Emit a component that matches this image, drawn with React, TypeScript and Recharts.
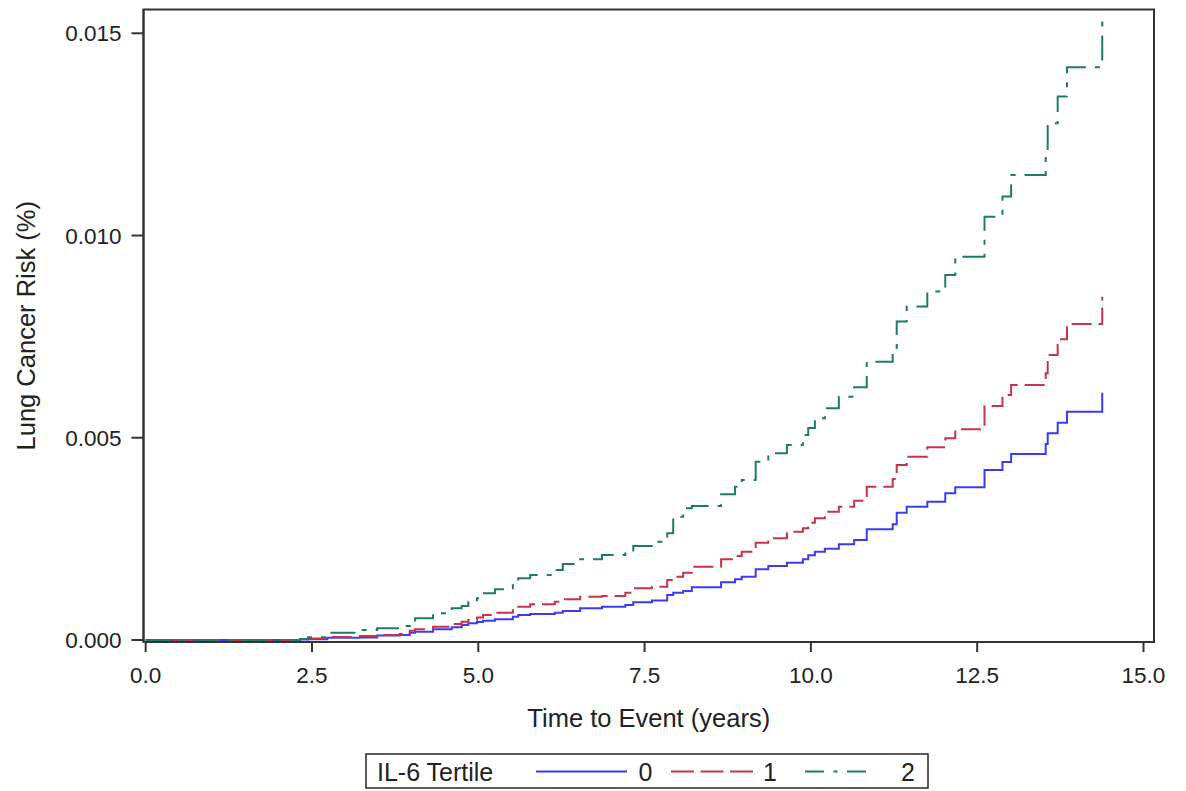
import React from 'react';
import { LineChart, Line, XAxis, YAxis, ReferenceArea, Label } from 'recharts';

// Time points (years) at which the step curves change
const times = [0, 2.32, 2.44, 2.73, 3.22, 3.48, 3.82, 3.97, 4.05, 4.32, 4.6, 4.75, 4.85, 4.98, 5.07, 5.25, 5.52, 5.6, 5.78, 6.15, 6.27, 6.53, 6.86, 7.21, 7.33, 7.61, 7.84, 7.93, 8.08, 8.21, 8.65, 8.86, 8.96, 9.17, 9.36, 9.64, 9.88, 9.96, 10.06, 10.21, 10.42, 10.65, 10.84, 11.23, 11.29, 11.44, 11.75, 12.02, 12.17, 12.61, 12.88, 13.01, 13.53, 13.56, 13.71, 13.85, 14.38];

// IL-6 Tertile 0
const tertile0 = [0, 0.000012, 0.000017, 0.000057, 0.000062, 0.000111, 0.000124, 0.000181, 0.000205, 0.000266, 0.000314, 0.000371, 0.000413, 0.000445, 0.000477, 0.000512, 0.000576, 0.000618, 0.000643, 0.000675, 0.000717, 0.000784, 0.000823, 0.000865, 0.000932, 0.000977, 0.001113, 0.00117, 0.001212, 0.001303, 0.001427, 0.001501, 0.001565, 0.001748, 0.00183, 0.001912, 0.001996, 0.002094, 0.002184, 0.002258, 0.002366, 0.002473, 0.002737, 0.002861, 0.003148, 0.003296, 0.00342, 0.003628, 0.003776, 0.004204, 0.004402, 0.004599, 0.004847, 0.005111, 0.005373, 0.005645, 0.006115];

// IL-6 Tertile 1
const tertile1 = [0, 0.000017, 0.000037, 0.000074, 0.000099, 0.000124, 0.000148, 0.00023, 0.000265, 0.000329, 0.000396, 0.000453, 0.000494, 0.000556, 0.000618, 0.000675, 0.000784, 0.000823, 0.000882, 0.000947, 0.001006, 0.001071, 0.001088, 0.00117, 0.001278, 0.001318, 0.001484, 0.001565, 0.001664, 0.001813, 0.001996, 0.002077, 0.002184, 0.002406, 0.002515, 0.002678, 0.002762, 0.002901, 0.003009, 0.003173, 0.003296, 0.003445, 0.003791, 0.003981, 0.004327, 0.004533, 0.004765, 0.004988, 0.00521, 0.005786, 0.006058, 0.006306, 0.006595, 0.007047, 0.007436, 0.007814, 0.008489];

// IL-6 Tertile 2
const tertile2 = [0, 0.000025, 0.000067, 0.000181, 0.000247, 0.000289, 0.000346, 0.000413, 0.000537, 0.00066, 0.000784, 0.000841, 0.000947, 0.001031, 0.001155, 0.001254, 0.001402, 0.001526, 0.001607, 0.001731, 0.001879, 0.001996, 0.002102, 0.002184, 0.002324, 0.002431, 0.002638, 0.003049, 0.003257, 0.003314, 0.003603, 0.003791, 0.003956, 0.004409, 0.004617, 0.004822, 0.005069, 0.005242, 0.005482, 0.00573, 0.006016, 0.006249, 0.006882, 0.007047, 0.007871, 0.008242, 0.008613, 0.009026, 0.009478, 0.010467, 0.010962, 0.011499, 0.012075, 0.012777, 0.013435, 0.014162, 0.015374];

const xTicks = [0, 2.5, 5, 7.5, 10, 12.5, 15];
const yTicks = [0, 0.005, 0.01, 0.015];
const seriesKeys = ['s0', 's1', 's2'];
const seriesNames = ['0', '1', '2'];
const seriesColors = ['#3B3BF2', '#C4344A', '#1F7A6A'];
const seriesDash = [undefined, '20 7', '25 9 5 9'];
const legendDash = [undefined, '23 6.5', '19 9.5 4 9.5'];
const legendTitle = 'IL-6 Tertile';
const xAxisTitle = 'Time to Event (years)';
const yAxisTitle = 'Lung Cancer Risk (%)';

const X_DOMAIN: [number, number] = [-0.033, 15.158];
const Y_DOMAIN: [number, number] = [-0.00005, 0.015588];

const FONT = '"Liberation Sans", Arial, Helvetica, sans-serif';
const AXIS = '#333333';
const TEXT = '#222222';

const data = times.map((t, i) => ({
  t,
  s0: tertile0[i],
  s1: tertile1[i],
  s2: tertile2[i],
}));

const XLabel = (props: any) => {
  const vb = props && props.viewBox ? props.viewBox : { x: 143.5, y: 642, width: 1010.5, height: 60 };
  const cx = vb.x + vb.width / 2;
  return (
    <text x={cx} y={vb.y + 85} textAnchor="middle" fontSize={25.5} fill={TEXT} fontFamily={FONT}>
      {xAxisTitle}
    </text>
  );
};

const YLabel = (props: any) => {
  const vb = props && props.viewBox ? props.viewBox : { x: 0, y: 9.5, width: 143.5, height: 632.5 };
  const x = vb.x + 35;
  const y = vb.y + vb.height / 2;
  return (
    <text x={x} y={y} textAnchor="middle" fontSize={25.5} fill={TEXT} fontFamily={FONT} transform={`rotate(-90, ${x}, ${y})`}>
      {yAxisTitle}
    </text>
  );
};

const LegendBox = () => {
  const boxX = 366;
  const boxY = 754;
  const lineY = 771.5;
  const textY = 780.5;
  const items = [
    { x1: 536, x2: 627, tx: 638.5 },
    { x1: 671, x2: 753, tx: 763 },
    { x1: 805, x2: 866, tx: 901 },
  ];
  return (
    <svg width={1186} height={791} style={{ position: 'absolute', left: 0, top: 0, pointerEvents: 'none' }}>
      <rect x={boxX} y={boxY} width={562} height={34} fill="#fff" stroke={AXIS} strokeWidth={1.6} />
      <text x={377} y={textY} fontSize={25} fill={TEXT} fontFamily={FONT}>{legendTitle}</text>
      {items.map((it, i) => (
        <g key={i}>
          <line x1={it.x1} x2={it.x2} y1={lineY} y2={lineY} stroke={seriesColors[i]} strokeWidth={2} strokeDasharray={legendDash[i]} />
          <text x={it.tx} y={textY} fontSize={25} fill={TEXT} fontFamily={FONT}>{seriesNames[i]}</text>
        </g>
      ))}
    </svg>
  );
};

export default function App() {
  return (
    <div style={{ position: 'absolute', left: 0, top: 0, width: 1186, height: 791, background: '#fff', fontFamily: FONT }}>
      <LineChart width={1186} height={791} data={data} margin={{ top: 9.5, right: 32, bottom: 89, left: 0 }}>
        <XAxis
          dataKey="t"
          type="number"
          domain={X_DOMAIN}
          allowDataOverflow
          ticks={xTicks}
          interval={0}
          tickFormatter={(v: number) => v.toFixed(1)}
          tickSize={10}
          tickMargin={15}
          height={60}
          axisLine={{ stroke: AXIS, strokeWidth: 2 }}
          tickLine={{ stroke: AXIS, strokeWidth: 2 }}
          tick={{ fontSize: 22.5, fill: TEXT, fontFamily: FONT }}
        >
          <Label content={XLabel} />
        </XAxis>
        <YAxis
          type="number"
          domain={Y_DOMAIN}
          allowDataOverflow
          ticks={yTicks}
          interval={0}
          tickFormatter={(v: number) => v.toFixed(3)}
          width={143.5}
          tickSize={12}
          tickMargin={10}
          axisLine={{ stroke: AXIS, strokeWidth: 2 }}
          tickLine={{ stroke: AXIS, strokeWidth: 2 }}
          tick={{ fontSize: 22.5, fill: TEXT, fontFamily: FONT }}
        >
          <Label content={YLabel} />
        </YAxis>
        <ReferenceArea
          x1={X_DOMAIN[0]}
          x2={X_DOMAIN[1]}
          y1={Y_DOMAIN[0]}
          y2={Y_DOMAIN[1]}
          fill="none"
          fillOpacity={0}
          stroke={AXIS}
          strokeWidth={2}
          ifOverflow="visible"
        />
        {seriesKeys.map((k, i) => (
          <Line
            key={k}
            type="stepAfter"
            dataKey={k}
            name={seriesNames[i]}
            stroke={seriesColors[i]}
            strokeWidth={2}
            strokeDasharray={seriesDash[i]}
            dot={false}
            activeDot={false}
            isAnimationActive={false}
          />
        ))}
      </LineChart>
      <LegendBox />
    </div>
  );
}
